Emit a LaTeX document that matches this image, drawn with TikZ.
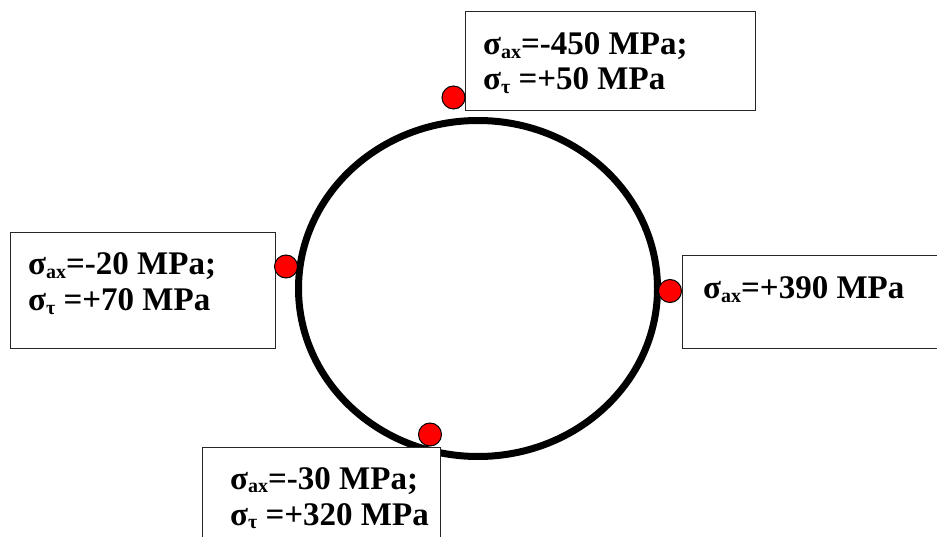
\documentclass[tikz,border=0pt]{standalone}
\usepackage{fontspec}
\setmainfont{Liberation Serif}
\usetikzlibrary{shapes.geometric}
\newcommand{\sgsub}[1]{σ\raisebox{-0.11em}{\fontsize{20}{20}\selectfont #1}}
\begin{document}
\begin{tikzpicture}[x=1pt,y=-1pt,
  box/.style={draw=black!85,line width=1.3pt,fill=white,rectangle,inner sep=0pt,anchor=north west},
  txt/.style={anchor=base west,inner sep=0pt,font=\bfseries\fontsize{33}{38}\selectfont},
  dot/.style={circle,draw=black,line width=1pt,fill=red,minimum size=23pt,inner sep=0pt},
  ring/.style={draw=black,line width=7pt}]
\clip (0,0) rectangle (937,537);
\fill[white] (0,0) rectangle (937,537);
% ring
\node[ring,ellipse,minimum width=359pt,minimum height=336pt,inner sep=0pt] (ring) at (478,288.5) {};
% boxes
\node[box,minimum width=290pt,minimum height=99pt] (topbox) at (465,11) {};
\node[box,minimum width=265pt,minimum height=116pt] (leftbox) at (10,232) {};
\node[box,minimum width=270pt,minimum height=93pt] (rightbox) at (682,255) {};
\node[box,minimum width=238pt,minimum height=100pt] (botbox) at (202,447) {};
% texts
\node[txt] (t1) at (483,55) {\sgsub{ax}=-450 MPa;};
\node[txt] (t2) at (483,90) {\sgsub{τ} =+50 MPa};
\node[txt] (l1) at (28,275) {\sgsub{ax}=-20 MPa;};
\node[txt] (l2) at (28,311) {\sgsub{τ} =+70 MPa};
\node[txt] (r1) at (703,299) {\sgsub{ax}=+390 MPa};
\node[txt] (b1) at (230,489) {\sgsub{ax}=-30 MPa;};
\node[txt] (b2) at (230,525) {\sgsub{τ} =+320 MPa};
% dots
\node[dot] (dtop) at (453.5,97.5) {};
\node[dot] (dleft) at (286,266.5) {};
\node[dot] (dright) at (670,291) {};
\node[dot] (dbot) at (430,434.5) {};
\end{tikzpicture}
\end{document}
